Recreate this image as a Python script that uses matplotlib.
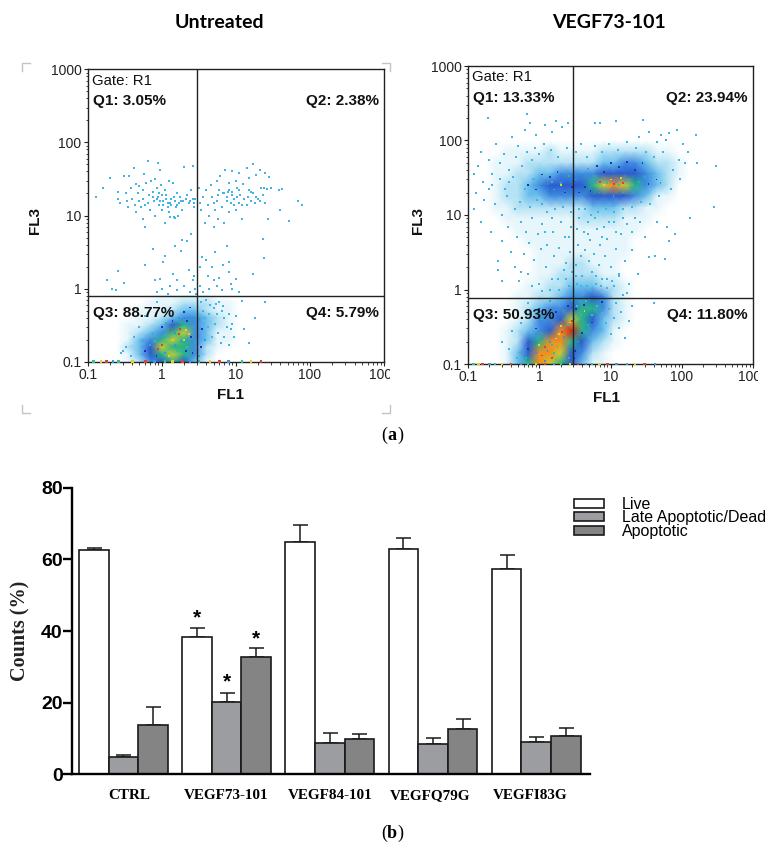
"""Flow cytometry dot plots (a) and apoptosis bar chart (b)."""

import numpy as np
import matplotlib
matplotlib.use("Agg")
import matplotlib.pyplot as plt
from matplotlib.colors import LinearSegmentedColormap
from matplotlib.patches import Patch
from matplotlib.ticker import NullFormatter
from matplotlib.transforms import Bbox

W, H = 784, 859

# ------------------------------------------------------------ bar chart data
groups = ["CTRL", "VEGF73-101", "VEGF84-101", "VEGFQ79G", "VEGFI83G"]
live = [62.5, 38.4, 64.9, 62.9, 57.2]
live_err = [0.8, 2.3, 4.6, 3.0, 4.0]
late = [4.7, 20.3, 8.8, 8.5, 9.1]
late_err = [0.8, 2.4, 2.6, 1.7, 1.3]
apop = [13.7, 32.8, 9.9, 12.7, 10.6]
apop_err = [5.2, 2.4, 1.4, 2.6, 2.4]
star_bars = [(1, 0, 44.3), (1, 1, 26.5), (1, 2, 38.6)]  # group, series, height

# ------------------------------------------------------- dot plot density (0-9)
dens_levels = ["#ffffff", "#e6f6fb", "#b4e2f4", "#6cc0ec", "#3f8ce0",
               "#2a5cd0", "#28b48a", "#c8d030", "#f09020", "#e02010"]

left_xe = [0.25, 0.35, 0.5, 0.7, 1, 1.4, 2, 2.8, 4, 5.6, 8, 11]
left_ye = [0.8, 0.63, 0.5, 0.4, 0.32, 0.25, 0.2, 0.16, 0.125, 0.1]
left_dens = [
    [0, 0, 0, 0, 1, 1, 1, 1, 1, 0, 0, 0],
    [0, 0, 0, 1, 1, 1, 2, 2, 2, 1, 1, 0],
    [0, 0, 1, 1, 1, 2, 3, 3, 2, 1, 1, 0],
    [0, 0, 1, 1, 2, 3, 4, 4, 3, 2, 1, 0],
    [0, 1, 1, 2, 3, 5, 6, 4, 3, 2, 1, 0],
    [0, 1, 2, 3, 4, 6, 7, 4, 3, 1, 1, 0],
    [0, 1, 3, 4, 6, 7, 6, 4, 3, 1, 1, 0],
    [0, 2, 3, 5, 7, 6, 6, 4, 2, 1, 0, 0],
    [0, 1, 3, 5, 6, 7, 6, 4, 2, 0, 0, 0],
    [0, 1, 2, 4, 5, 6, 5, 3, 1, 0, 0, 0],
]

right_xe = [0.18, 0.25, 0.35, 0.5, 0.7, 1, 1.4, 2, 2.8, 4, 5.6, 8, 11, 16, 22, 32,
            45, 63, 90, 125]
right_ye = [100, 71, 50, 36, 25, 18, 12.6, 9, 6.3, 4.5, 3.2, 2.2, 1.6, 1.1, 0.8,
            0.56, 0.4, 0.28, 0.2, 0.14, 0.1]
right_dens = [
    [0, 0, 0, 0, 0, 0, 0, 0, 0, 0, 0, 0, 0, 0, 0, 0, 0, 0, 0, 0],
    [0, 0, 1, 1, 1, 1, 2, 1, 1, 1, 1, 2, 2, 2, 2, 2, 1, 1, 0, 0],
    [0, 1, 1, 1, 2, 2, 2, 2, 2, 2, 2, 3, 3, 4, 4, 3, 2, 2, 1, 0],
    [0, 1, 1, 2, 2, 3, 3, 4, 4, 4, 4, 5, 5, 5, 5, 4, 3, 2, 1, 0],
    [0, 1, 2, 2, 3, 4, 5, 5, 5, 5, 6, 7, 8, 7, 6, 4, 3, 2, 0, 0],
    [0, 1, 2, 2, 3, 3, 4, 4, 4, 4, 5, 5, 5, 5, 4, 3, 1, 1, 0, 0],
    [0, 1, 1, 2, 2, 2, 2, 2, 2, 2, 3, 3, 3, 2, 2, 1, 1, 0, 0, 0],
    [0, 0, 1, 1, 1, 1, 1, 1, 1, 2, 2, 2, 2, 1, 1, 1, 0, 0, 0, 0],
    [0, 0, 0, 1, 1, 1, 1, 1, 1, 1, 1, 1, 1, 1, 1, 0, 0, 0, 0, 0],
    [0, 0, 0, 0, 1, 1, 1, 1, 1, 1, 1, 1, 1, 1, 0, 0, 0, 0, 0, 0],
    [0, 0, 0, 0, 0, 1, 1, 1, 1, 1, 1, 1, 1, 1, 0, 0, 0, 0, 0, 0],
    [0, 0, 0, 0, 0, 1, 1, 1, 2, 2, 1, 1, 1, 0, 0, 0, 0, 0, 0, 0],
    [0, 0, 0, 0, 0, 1, 1, 2, 2, 2, 2, 1, 1, 0, 0, 0, 0, 0, 0, 0],
    [0, 0, 0, 0, 1, 1, 2, 2, 3, 3, 3, 2, 2, 1, 0, 0, 0, 0, 0, 0],
    [0, 0, 0, 1, 1, 2, 2, 3, 4, 4, 5, 4, 2, 1, 0, 0, 0, 0, 0, 0],
    [0, 0, 0, 1, 2, 3, 4, 4, 5, 6, 6, 4, 2, 1, 0, 0, 0, 0, 0, 0],
    [0, 0, 0, 1, 2, 4, 4, 5, 7, 6, 5, 3, 2, 1, 0, 0, 0, 0, 0, 0],
    [0, 0, 1, 2, 3, 4, 5, 8, 9, 6, 4, 3, 1, 0, 0, 0, 0, 0, 0, 0],
    [0, 0, 1, 2, 5, 6, 8, 8, 6, 5, 3, 2, 1, 0, 0, 0, 0, 0, 0, 0],
    [0, 0, 1, 3, 5, 8, 8, 7, 5, 4, 2, 1, 0, 0, 0, 0, 0, 0, 0, 0],
    [0, 0, 1, 3, 6, 8, 7, 6, 5, 3, 1, 1, 0, 0, 0, 0, 0, 0, 0, 0],
]

# ------------------------------------------------- individual dots (FL1, FL3)
left_sparse = [
    (0.13, 18), (0.16, 24), (0.2, 33), (0.26, 21), (0.26, 17), (0.27, 15), (0.31, 35), (0.33, 20),
    (0.34, 16), (0.35, 13), (0.36, 35), (0.38, 24), (0.4, 17), (0.42, 44), (0.43, 14), (0.45, 27),
    (0.45, 11), (0.48, 20), (0.5, 16), (0.52, 13), (0.55, 22), (0.55, 9), (0.58, 37), (0.6, 14),
    (0.6, 7), (0.62, 28), (0.66, 55), (0.68, 19), (0.7, 12), (0.72, 30), (0.75, 21), (0.78, 16),
    (0.8, 32), (0.82, 10), (0.85, 24), (0.88, 52), (0.9, 18), (0.92, 14), (0.95, 42), (0.98, 26),
    (1.0, 19), (1.02, 12), (1.05, 16), (1.1, 8), (1.1, 22), (1.15, 17), (1.2, 13), (1.25, 30),
    (1.3, 15), (1.3, 9.5), (1.4, 28), (1.45, 18), (1.5, 9.3), (1.55, 13), (1.6, 20), (1.65, 10),
    (1.7, 15), (1.8, 16), (1.9, 12), (2, 46), (2.1, 17), (2.2, 19), (2.4, 16), (2.5, 22),
    (2.6, 48), (2.7, 13), (2.8, 17), (1.2, 15), (1.35, 14), (0.95, 16), (0.85, 17), (1.45, 9.5),
    (0.75, 18), (0.65, 15), (0.92, 20), (1.05, 14), (1.15, 19), (1.25, 11), (1.35, 17), (1.5, 16),
    (1.6, 14), (1.75, 18), (1.95, 16), (2.3, 15), (2.6, 17), (2.75, 15), (0.55, 17), (0.5, 25),
    (3.2, 24), (3.3, 15), (3.4, 12), (3.6, 18), (3.8, 8), (4, 22), (4.2, 14), (4.4, 10),
    (4.6, 26), (4.8, 18), (5, 7), (5.2, 12), (5.5, 30), (5.6, 16), (5.8, 9), (6, 22),
    (6.2, 35), (6.5, 13), (6.8, 20), (7, 8), (7.2, 42), (7.5, 18), (7.8, 21), (8, 28),
    (8, 11), (8.5, 15), (8.8, 40), (9, 21), (9.5, 17), (10, 30), (10, 12), (10.5, 24),
    (11, 38), (11, 15), (11.5, 19), (12, 9), (12.5, 27), (13, 17), (14, 44), (14, 14),
    (15, 22), (15, 33), (16, 16), (17, 50), (17, 20), (18, 15), (19, 36), (20, 17),
    (21, 42), (22, 24), (23, 19), (25, 38), (25, 15), (27, 9), (28, 34), (30, 24),
    (38, 22), (42, 23), (40, 12), (52, 8.5), (68, 16), (78, 14),
    (7, 20), (7.6, 16), (8.2, 22), (8.8, 19), (9.3, 14), (10.5, 18), (11.2, 22), (12.2, 14),
    (14.5, 18), (16, 21), (18.5, 18), (21, 16), (24, 24), (26, 23), (5, 15), (5.8, 19),
    (0.18, 1.3), (0.21, 1.0), (0.26, 1.75), (0.31, 1.2), (0.24, 0.95), (0.6, 2.1), (0.75, 3.5),
    (0.8, 1.3), (0.85, 0.9), (0.95, 1.35), (1, 1.0), (1.05, 2.3), (1.1, 2.8), (1.2, 0.85),
    (1.3, 1.1), (1.4, 1.6), (1.5, 3.8), (1.6, 1.3), (1.6, 0.95), (1.8, 3.3), (1.9, 4.6), (2, 1.1),
    (2.2, 4.5), (2.3, 1.8), (2.4, 0.9), (2.5, 5.5), (2.6, 1.3), (2.7, 1.5), (2.8, 1.0), (2.9, 0.85),
    (3.3, 2), (3.3, 1.1), (3.5, 2.7), (3.6, 0.9), (4, 2.5), (4.2, 1.5), (4.3, 1.0), (4.8, 2),
    (5, 1.3), (5.2, 3.2), (5.5, 1.1), (6, 1.4), (6.5, 0.95), (6.8, 2.1), (7.5, 3.8), (8, 2.3),
    (8.2, 1.7), (8.7, 1.15), (9, 1.0), (10, 1.35), (11, 0.9), (17, 1.6), (23, 4.8), (24, 2.6),
    (25, 0.65), (4, 0.7), (4.5, 0.6), (5, 0.55), (5.5, 0.45), (6, 0.65), (6.5, 0.5), (7, 0.4),
    (7.5, 0.3), (8, 0.45), (9, 0.33), (10, 0.42), (12, 0.68), (13, 0.28), (15, 0.18), (18, 0.4),
    (4.2, 0.3), (4.8, 0.22), (5.2, 0.33), (5.8, 0.25), (6.3, 0.18), (7, 0.22), (8, 0.17), (3.6, 0.5),
    (3.4, 0.65), (3.8, 0.4), (4.4, 0.45), (5.4, 0.62), (6.8, 0.58), (8.5, 0.28), (9.5, 0.22), (0.33, 0.16),
    (0.3, 0.14), (0.38, 0.12), (0.28, 0.13), (0.42, 0.22), (0.5, 0.3), (0.6, 0.42), (0.72, 0.55), (0.85, 0.66),
]
left_mid = [
    (2.4, 0.55), (2.6, 0.42), (2.2, 0.36), (2.7, 0.3), (2.5, 0.22), (2.8, 0.18), (2.6, 0.13), (2.3, 0.28),
    (2.1, 0.14), (0.7, 0.17), (0.6, 0.14), (0.75, 0.24), (0.85, 0.12), (0.55, 0.19), (1.0, 0.3), (1.15, 0.34),
    (1.4, 0.36), (1.7, 0.4), (2, 0.48), (3.2, 0.38), (3.5, 0.28), (3.8, 0.2), (3.4, 0.16), (3.2, 0.12),
]
left_hot = [
    (1.2, 0.22), (1.4, 0.2), (1.7, 0.24), (1.5, 0.17), (1.9, 0.3), (2.1, 0.27), (0.9, 0.15), (1.1, 0.13),
    (1.6, 0.14), (2, 0.2), (1.3, 0.27), (1.8, 0.19), (0.8, 0.19), (2.3, 0.24), (1.0, 0.17), (1.5, 0.25),
    (2.2, 0.16), (1.25, 0.12), (1.75, 0.28), (0.95, 0.21),
]
left_edge = [0.12, 0.15, 0.18, 0.22, 0.26, 0.4, 0.6, 0.8, 1.1, 1.4, 1.9, 2.4, 3.2, 4.5, 6, 8, 12, 16, 22]

right_sparse = [
    (0.1, 60), (0.1, 110), (0.12, 35), (0.12, 12), (0.13, 20), (0.14, 45), (0.15, 70), (0.15, 8),
    (0.16, 28), (0.17, 16), (0.19, 200), (0.2, 55), (0.2, 22), (0.21, 6), (0.22, 35), (0.24, 14),
    (0.25, 90), (0.26, 2.4), (0.26, 1.8), (0.28, 30), (0.3, 10), (0.3, 4.5), (0.32, 65), (0.35, 18),
    (0.36, 7), (0.38, 40), (0.4, 3.2), (0.42, 110), (0.45, 12), (0.46, 2), (0.48, 5), (0.5, 85),
    (0.52, 1.3), (0.55, 8), (0.6, 3), (0.62, 140), (0.65, 6), (0.68, 230), (0.7, 1.6), (0.72, 4.2),
    (0.75, 170), (0.8, 9), (0.85, 2.5), (0.9, 120), (0.95, 5.5), (1, 1.2), (1.05, 3.5), (1.1, 7.5),
    (1.2, 160), (1.25, 2), (1.3, 4), (1.4, 1.0), (1.5, 130), (1.55, 6), (1.6, 2.8), (1.7, 180),
    (1.8, 1.4), (1.9, 3.6), (2, 8), (2.1, 150), (2.2, 1.8), (2.3, 5), (2.4, 2.3), (2.5, 170),
    (2.6, 1.1), (2.7, 3.2), (2.8, 7), (2.9, 1.7), (3.3, 2.1), (3.4, 1.2), (3.5, 4), (3.6, 9),
    (3.8, 2.8), (4, 1.5), (4.2, 6), (4.4, 3.4), (4.6, 1.1), (4.8, 8), (5, 2.4), (5.2, 4.6),
    (5.5, 1.7), (5.8, 3), (6, 170), (6.2, 1.2), (6.5, 6.5), (6.8, 2.1), (7, 170), (7.2, 4),
    (7.5, 1.4), (8, 7), (8.3, 2.8), (8.8, 1.05), (9, 4.8), (10, 2), (10.5, 1.3), (11, 8),
    (12, 3.5), (12, 180), (13, 1.5), (14, 5.5), (15, 0.85), (16, 2.4), (17, 7.5), (18, 1.2),
    (20, 3.4), (22, 9), (24, 1.6), (28, 190), (30, 5), (35, 2.7), (40, 0.65), (42, 2.8),
    (45, 8), (58, 2.6), (62, 7), (65, 4.5), (80, 5.5), (85, 140), (65, 125), (50, 120),
    (155, 120), (110, 50), (120, 70), (105, 90), (90, 55), (75, 40), (60, 100), (45, 95),
    (35, 130), (25, 110), (130, 9), (165, 50), (300, 45), (285, 13), (95, 30), (70, 22),
    (0.22, 25), (0.28, 50), (0.33, 22), (0.37, 28), (0.43, 32), (0.47, 60), (0.53, 15), (0.58, 45),
    (0.63, 22), (0.67, 70), (0.73, 13), (0.78, 55), (0.83, 30), (0.88, 80), (0.93, 16), (1.0, 65),
    (1.1, 14), (1.15, 90), (1.3, 11), (1.45, 75), (1.65, 12), (1.85, 60), (2.15, 13), (2.45, 80),
    (2.75, 11), (3.3, 70), (3.6, 12), (3.9, 90), (4.3, 12), (4.7, 60), (5.3, 10), (6, 85),
    (6.7, 11), (7.5, 70), (8.5, 12), (9.5, 90), (11, 11), (12.5, 75), (15, 12), (17, 95),
    (20, 13), (23, 80), (27, 15), (31, 70), (36, 14), (40, 60), (48, 18), (55, 70),
    (3.4, 0.6), (4.5, 0.7), (5.5, 0.45), (6.5, 0.6), (7, 0.3), (7.5, 0.48), (8.5, 0.35), (9.5, 0.55),
    (10, 0.25), (11, 0.42), (12, 0.65), (13, 0.3), (14, 0.5), (16, 0.22), (18, 0.38), (20, 0.6),
    (0.3, 0.2), (0.38, 0.16), (0.42, 0.28), (0.48, 0.12), (0.55, 0.36), (0.62, 0.5), (0.7, 0.65), (0.3, 1.3),
    (0.55, 1.7), (0.8, 1.1), (1.1, 0.95), (1.5, 1.4), (1.9, 1.0), (2.4, 1.4), (3.3, 1.5), (3.9, 1.1),
    (5.2, 1.0), (6.2, 1.5), (7.4, 1.1), (9, 1.4), (11, 1.1), (13, 1.6), (17, 0.9), (1.2, 6), (1.5, 9),
    (2.6, 5), (3.4, 6.5), (4.8, 5.5), (6, 9), (7.5, 5), (9.5, 8), (12, 6), (15, 9), (20, 6), (26, 8),
]
right_mid = [
    (0.7, 25), (0.8, 30), (0.9, 22), (1.0, 28), (1.1, 35), (1.2, 20), (1.4, 32), (1.6, 22),
    (1.8, 38), (2.0, 27), (2.3, 20), (2.6, 33), (2.9, 24), (3.3, 30), (3.6, 20), (4, 36),
    (4.4, 24), (4.8, 42), (5.2, 21), (5.8, 30), (6.4, 45), (7, 20), (8, 38), (9, 22),
    (10, 50), (11, 18), (13, 44), (15, 20), (17, 52), (19, 24), (22, 40), (25, 28),
    (28, 50), (30, 32), (34, 26), (38, 36), (44, 30), (50, 27), (1.0, 0.55), (1.4, 0.7),
    (1.7, 0.5), (2.1, 0.65), (2.5, 0.6), (2.9, 0.72), (3.3, 0.55), (3.7, 0.7), (4.2, 0.62), (5, 0.75),
    (0.9, 0.3), (0.8, 0.22), (0.7, 0.16), (1.1, 0.4), (3.2, 0.15), (3.5, 0.2), (4, 0.26), (4.8, 0.33),
    (5.5, 0.36), (6.5, 0.42), (7.5, 0.68), (0.65, 0.12), (3.1, 0.12), (2.6, 0.12),
]
right_hot = [
    (9, 27), (10, 30), (11, 26), (12, 28), (13, 25), (14, 31), (15, 27), (16, 29),
    (18, 30), (8, 25), (7, 28), (1.3, 26), (1.5, 28), (2, 25), (1.1, 0.13), (1.3, 0.15),
    (1.5, 0.18), (1.7, 0.22), (1.2, 0.17), (1.4, 0.2), (1.6, 0.14), (1.9, 0.25), (2.1, 0.27), (2.3, 0.3),
    (2.5, 0.33), (2.7, 0.36), (2.9, 0.38), (2.2, 0.23), (1.8, 0.17), (1.0, 0.18), (2.6, 0.28), (3.1, 0.4),
    (3.4, 0.36), (2.0, 0.32), (1.5, 0.12), (0.9, 0.14), (3.8, 0.45), (4.3, 0.52), (3.3, 0.3), (1.2, 0.11),
]
right_edge = [0.12, 0.14, 0.16, 0.2, 0.24, 0.3, 0.4, 0.55, 0.7, 0.9, 1.2, 1.6, 2, 2.7, 3.5, 4.5, 5.5, 7, 9, 12, 17, 22, 30, 42]
edge_colors = ["#30c0a0", "#e8d020", "#e04030", "#4090e0"]
mid_colors = ["#1a34c0", "#22a8e0", "#1a34c0", "#20b8a8"]

log_ticks = [0.1, 1, 10, 100, 1000]
log_labels = ["0.1", "1", "10", "100", "1000"]

SANS = "Liberation Sans"
SERIF = "Liberation Serif"

density_cmap = LinearSegmentedColormap.from_list("density", dens_levels, N=256)


def px_axes(fig, x0, y0, x1, y1):
    # axes from image pixel corners (y counted from the top)
    return fig.add_axes([x0 / W, 1 - y1 / H, (x1 - x0) / W, (y1 - y0) / H])


def px_text(fig, x, y, s, **kw):
    kw.setdefault("va", "center")
    kw.setdefault("family", SANS)
    return fig.text(x / W, 1 - y / H, s, **kw)


def dot_plot(fig, box, xe, ye, dens, sparse, mid, hot, edge, gate, labels, clip_x):
    ax = px_axes(fig, *box)
    ax.set_xscale("log")
    ax.set_yscale("log")
    ax.pcolormesh(xe, ye, np.array(dens) / 9.0, cmap=density_cmap, vmin=0, vmax=1,
                  shading="gouraud", zorder=1)
    sx, sy = zip(*sparse)
    ax.scatter(sx, sy, s=1.4, marker="s", color="#3fb6e6", linewidths=0, zorder=2)
    mx, my = zip(*mid)
    ax.scatter(mx, my, s=1.6, marker="s", color=[mid_colors[i % 4] for i in range(len(mx))],
               linewidths=0, zorder=2.5)
    hx, hy = zip(*hot)
    ax.scatter(hx, hy, s=1.8, marker="s", color=[edge_colors[i % 4] for i in range(len(hx))],
               linewidths=0, zorder=3)
    ax.scatter(edge, [0.1] * len(edge), s=3, marker="s", clip_on=False, linewidths=0, zorder=3,
               color=[edge_colors[i % 4] for i in range(len(edge))])
    ax.axvline(gate[0], color="#222222", lw=1.0, zorder=4)
    ax.axhline(gate[1], color="#222222", lw=1.0, zorder=4)
    ax.set_xlim(0.1, 1000)
    ax.set_ylim(0.1, 1000)
    ax.set_xticks(log_ticks, log_labels)
    ax.set_yticks(log_ticks, log_labels)
    ax.xaxis.set_minor_formatter(NullFormatter())
    ax.yaxis.set_minor_formatter(NullFormatter())
    ax.tick_params(which="major", length=3, width=0.8, labelsize=10, pad=1.5, colors="#222222")
    ax.tick_params(which="minor", length=1.8, width=0.6, colors="#222222")
    for s in ax.spines.values():
        s.set_linewidth(1.0)
        s.set_color("#222222")
    for lab in ax.get_xticklabels() + ax.get_yticklabels():
        lab.set_family(SANS)
    # the last x label is cut off by the image crop in the source figure
    last = ax.get_xticklabels()[-1]
    last.set_clip_box(Bbox([[0, 0], [clip_x, H]]))
    last.set_clip_on(True)
    for x, y, s, ha, bold in labels:
        px_text(fig, x, y, s, ha=ha, color="#111111", zorder=6,
                fontsize=11 if bold else 10.8, fontweight="bold" if bold else "normal")
    return ax


fig = plt.figure(figsize=(W / 100, H / 100), dpi=100)

# ------------------------------------------------------------------ panel a
px_text(fig, 219, 22, "Untreated", ha="center", fontsize=14, fontweight="bold", family="Lato")
px_text(fig, 609, 22, "VEGF73-101", ha="center", fontsize=14, fontweight="bold", family="Lato")

dot_plot(fig, (87.7, 69.3, 384, 361.7), left_xe, left_ye, left_dens, left_sparse, left_mid, left_hot, left_edge,
         (3, 0.78), [(91.7, 81, "Gate: R1", "left", False), (92.7, 101, "Q1: 3.05%", "left", True),
                     (378.7, 101, "Q2: 2.38%", "right", True), (92.7, 313, "Q3: 88.77%", "left", True),
                     (378.7, 313, "Q4: 5.79%", "right", True)], 390)
dot_plot(fig, (468, 66, 753.3, 364), right_xe, right_ye, right_dens, right_sparse, right_mid, right_hot, right_edge,
         (3, 0.78), [(471.7, 77, "Gate: R1", "left", False), (473, 98, "Q1: 13.33%", "left", True),
                     (748, 98, "Q2: 23.94%", "right", True), (473, 315, "Q3: 50.93%", "left", True),
                     (748, 315, "Q4: 11.80%", "right", True)], 758)

for x, y, s, rot in [(231, 395, "FL1", 0), (35, 220, "FL3", 90), (606, 398, "FL1", 0), (418, 220, "FL3", 90)]:
    px_text(fig, x, y, s, ha="center", rotation=rot, fontsize=11, fontweight="bold", color="#111111")

# faint crop corners around the left plot
for xs, ys in [((22, 22, 30), (71, 63, 63)), ((382, 390, 390), (63, 63, 71)),
               ((22, 22, 30), (405, 413, 413)), ((382, 390, 390), (413, 413, 405))]:
    fig.add_artist(plt.Line2D([v / W for v in xs], [1 - v / H for v in ys], color="#c4c4c4", lw=1))

px_text(fig, 384, 435, "(", ha="center", family=SERIF, fontsize=13)
px_text(fig, 392, 435, "a", ha="center", family=SERIF, fontsize=13, fontweight="bold")
px_text(fig, 400, 435, ")", ha="center", family=SERIF, fontsize=13)

# ------------------------------------------------------------------ panel b
bar_w = 1.0
group_step = 3.486
first_bar = 0.226
ax = px_axes(fig, 72.3, 487.7, 590, 774.3)
series = [(live, live_err, "#ffffff", "Live"),
          (late, late_err, "#9c9da1", "Late Apoptotic/Dead"),
          (apop, apop_err, "#848484", "Apoptotic")]
handles = []
for j, (vals, errs, color, name) in enumerate(series):
    xpos = [first_bar + i * group_step + (j + 0.5) * bar_w for i in range(len(groups))]
    ax.bar(xpos, vals, width=bar_w, color=color, edgecolor="#1a1a1a", linewidth=1.2, zorder=2)
    ax.errorbar(xpos, vals, yerr=[[0] * len(errs), errs], fmt="none", ecolor="#1a1a1a",
                elinewidth=1.1, capsize=5.4, capthick=1.1, zorder=1)
    handles.append(Patch(facecolor=color, edgecolor="#1a1a1a", linewidth=1.2, label=name))

for i, j, h in star_bars:
    ax.text(first_bar + i * group_step + (j + 0.5) * bar_w, h - 0.7, "*", ha="center", va="center",
            fontsize=15, fontweight="bold", family=SANS)

ax.set_xlim(0, 17.49)
ax.set_ylim(0, 80)
ax.set_yticks([0, 20, 40, 60, 80])
label_shift = [0.2, 0, 0, -0.1, -0.2]
ax.set_xticks([first_bar + i * group_step + 1.5 + label_shift[i] for i in range(len(groups))], [""] * len(groups))
for tick_x, name in zip(ax.get_xticks(), groups):
    # baseline aligned, the Q in VEGFQ79G would shift a tick label
    ax.text(tick_x, -0.0862, name, transform=ax.get_xaxis_transform(), ha="center", va="baseline",
            family=SERIF, fontweight="bold", fontsize=10.9)
ax.tick_params(axis="x", length=0)
ax.tick_params(axis="y", length=6.5, width=1.7, pad=0.5)
for lab in ax.get_yticklabels():
    lab.set(family=SANS, fontweight="bold", fontsize=14)
ax.spines["top"].set_visible(False)
ax.spines["right"].set_visible(False)
ax.spines["left"].set_linewidth(1.7)
ax.spines["bottom"].set_linewidth(1.7)
ax.set_axisbelow(False)
px_text(fig, 20, 631, "Counts (%)", ha="center", rotation=90, family=SERIF, fontsize=14.5, fontweight="bold",
        color="#222222")

fig.legend(handles=handles, loc="upper left", bbox_to_anchor=(574 / W, 1 - 497 / H), frameon=False,
           borderaxespad=0, borderpad=0, handlelength=1.88, handleheight=0.5, handletextpad=1.1,
           labelspacing=-0.1, prop={"family": SANS, "size": 11.5})

px_text(fig, 384, 833, "(", ha="center", family=SERIF, fontsize=13)
px_text(fig, 392, 833, "b", ha="center", family=SERIF, fontsize=13, fontweight="bold")
px_text(fig, 400, 833, ")", ha="center", family=SERIF, fontsize=13)

fig.savefig("out.png", dpi=100)
